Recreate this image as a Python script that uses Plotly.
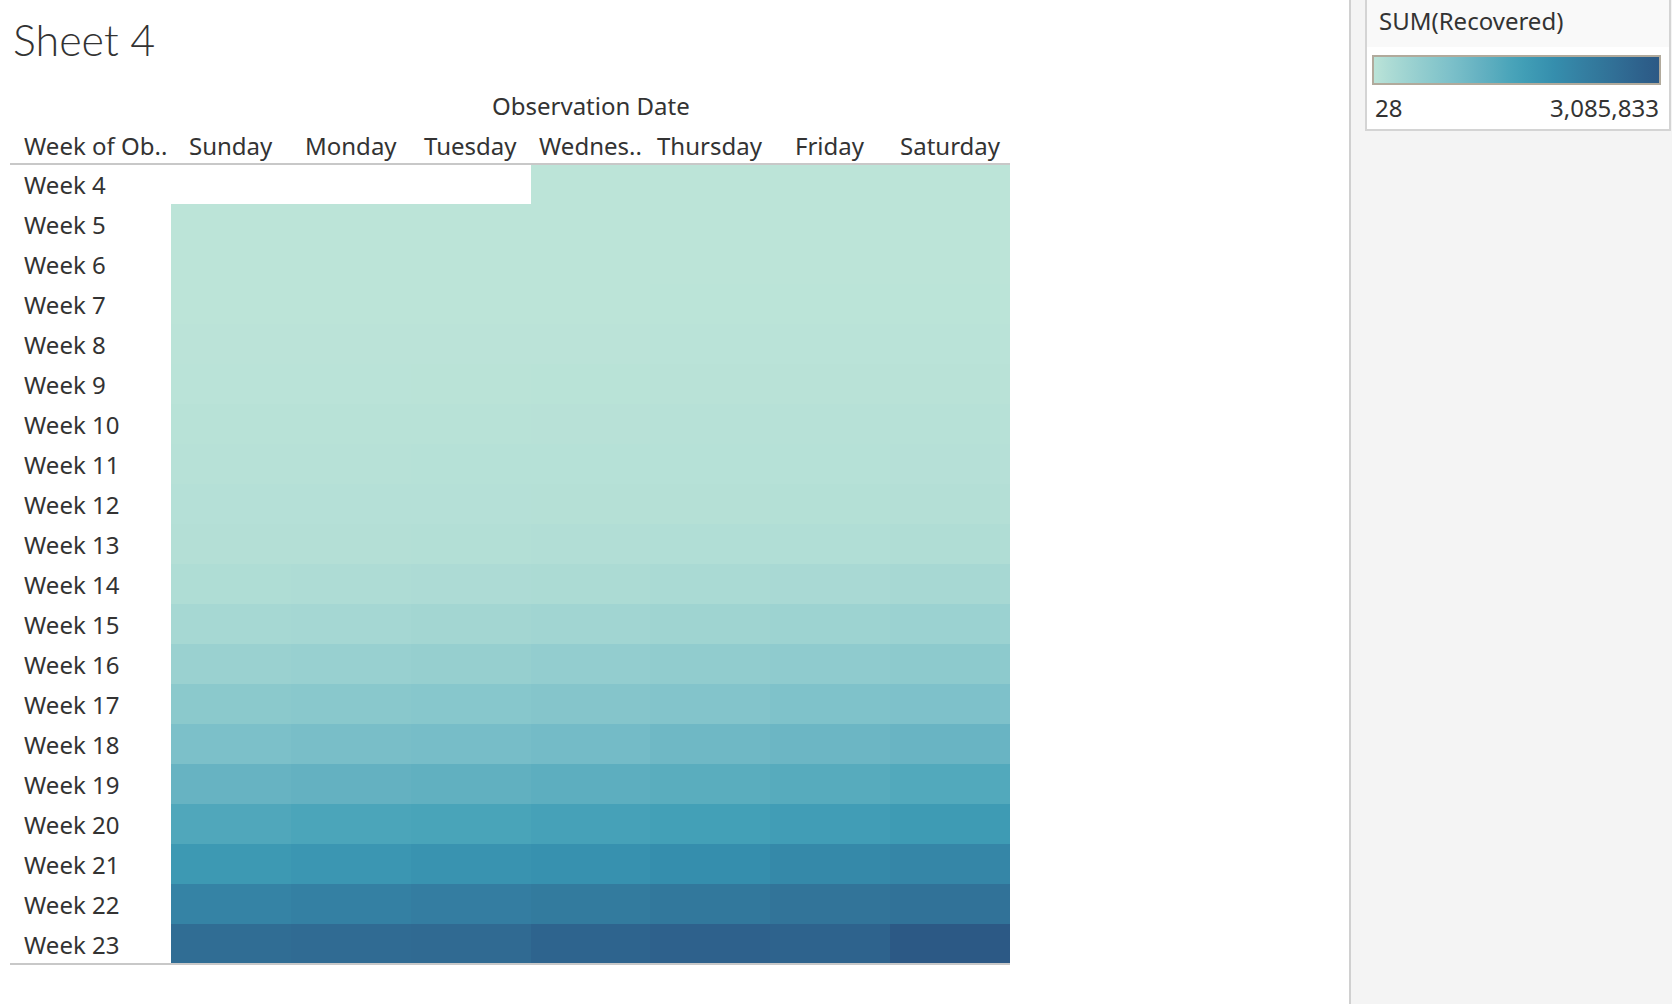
import plotly.graph_objects as go

days = ["Sunday", "Monday", "Tuesday", "Wednesday", "Thursday", "Friday", "Saturday"]
day_labels = ["Sunday", "Monday", "Tuesday", "Wednes..", "Thursday", "Friday", "Saturday"]
weeks = ["Week %d" % i for i in range(4, 24)]

recovered = [
    [None, None, None, 28, 30, 36, 39],
    [52, 61, 107, 126, 143, 222, 284],
    [472, 623, 852, 1124, 1487, 2011, 2616],
    [3244, 3946, 4683, 5150, 6295, 8058, 9395],
    [10865, 12583, 14352, 16121, 18177, 18890, 22886],
    [23394, 25227, 27905, 30384, 33277, 36711, 39782],
    [42716, 45602, 48228, 51170, 53796, 55865, 58358],
    [60694, 62494, 64404, 67003, 68324, 70251, 72624],
    [76034, 78088, 80840, 83207, 84854, 87256, 91676],
    [97243, 98334, 107990, 113787, 122150, 130915, 139415],
    [149082, 164566, 178034, 193177, 210263, 225796, 246152],
    [260012, 276515, 300054, 328661, 353975, 376096, 402110],
    [421722, 448655, 474261, 511019, 542107, 568343, 592319],
    [623903, 645738, 680400, 710298, 739273, 790842, 817306],
    [845066, 873636, 906988, 948425, 1014753, 1052415, 1093112],
    [1125236, 1162724, 1198832, 1245413, 1284741, 1322050, 1375624],
    [1408980, 1456209, 1493414, 1548547, 1587893, 1637067, 1693197],
    [1733963, 1786875, 1838995, 1897466, 1948739, 2056643, 2112185],
    [2168563, 2231738, 2286956, 2350088, 2415233, 2493814, 2546634],
    [2639599, 2684005, 2706000, 2821174, 2880128, 2840000, 3085833],
]
legend_min = 28
legend_max = 3085833

palette = ["#bce4d8", "#aedcd5", "#a1d5d2", "#95cecf", "#89c8cc", "#7ec1ca", "#72bac6",
           "#66b2c2", "#59acbe", "#4ba5ba", "#419eb6", "#3b96b2", "#358ead", "#3586a7",
           "#347ea1", "#32779b", "#316f96", "#2f6790", "#2d5f8a", "#2c5985"]
colorscale = [[i / (len(palette) - 1), c] for i, c in enumerate(palette)]

W, H = 1672, 1004
L, R, T, B = 171, 1010, 164, 964

def px(xp):
    return (xp - L) / (R - L)

def py(yp):
    return (B - yp) / (B - T)

FONT = "Noto Sans"
TXT = "#333333"
FS = 24

fig = go.Figure()
fig.add_trace(go.Heatmap(
    z=recovered, x=days, y=weeks,
    colorscale=colorscale, zmin=legend_min, zmax=legend_max,
    xgap=0, ygap=0, hoverongaps=False,
    colorbar=dict(
        orientation="h", xref="paper", yref="paper",
        x=px(1373), xanchor="left", y=py(56), yanchor="top",
        len=287, lenmode="pixels", thickness=28, thicknessmode="pixels",
        outlinecolor="#b1aa9c", outlinewidth=2, showticklabels=False, ticks="",
        xpad=0, ypad=0,
    ),
))

shapes = []
shapes.append(dict(type="rect", xref="paper", yref="paper", x0=px(1350), x1=px(W + 5),
                   y0=py(H + 5), y1=py(-5), fillcolor="#f4f4f4", line=dict(width=0), layer="below"))
shapes.append(dict(type="line", xref="paper", yref="paper", x0=px(1350), x1=px(1350),
                   y0=py(H + 5), y1=py(-5), line=dict(color="#d0d0d0", width=2), layer="below"))
shapes.append(dict(type="rect", xref="paper", yref="paper", x0=px(1366), x1=px(1670),
                   y0=py(130), y1=py(-3), fillcolor="#ffffff", line=dict(color="#d4d4d4", width=2), layer="below"))
shapes.append(dict(type="rect", xref="paper", yref="paper", x0=px(1367), x1=px(1669),
                   y0=py(47), y1=py(-2), fillcolor="#f9f9f9", line=dict(width=0), layer="below"))
shapes.append(dict(type="line", xref="paper", yref="paper", x0=px(10), x1=px(1010),
                   y0=py(164), y1=py(164), line=dict(color="#c8c8c8", width=2)))
shapes.append(dict(type="line", xref="paper", yref="paper", x0=px(10), x1=px(1010),
                   y0=py(964), y1=py(964), line=dict(color="#c8c8c8", width=2)))

ann = []
ann.append(dict(text="Sheet 4", xref="paper", yref="paper", x=px(11), y=py(39),
                xanchor="left", yanchor="middle", showarrow=False,
                font=dict(family="Lato", size=43, color=TXT, weight=300)))
ann.append(dict(text="Observation Date", xref="paper", yref="paper", x=px(591), y=py(105),
                xanchor="center", yanchor="middle", showarrow=False,
                font=dict(family=FONT, size=FS, color=TXT)))
ann.append(dict(text="Week of Ob..", xref="paper", yref="paper", x=px(22), y=py(145),
                xanchor="left", yanchor="middle", showarrow=False,
                font=dict(family=FONT, size=FS, color=TXT)))
for d, lab in zip(days, day_labels):
    ann.append(dict(text=lab, xref="x", yref="paper", x=d, y=py(145),
                    xanchor="center", yanchor="middle", showarrow=False,
                    font=dict(family=FONT, size=FS, color=TXT)))
for w in weeks:
    ann.append(dict(text=w, xref="paper", yref="y", x=px(22), y=w,
                    xanchor="left", yanchor="middle", showarrow=False,
                    font=dict(family=FONT, size=FS, color=TXT)))
ann.append(dict(text="SUM(Recovered)", xref="paper", yref="paper", x=px(1377), y=py(20),
                xanchor="left", yanchor="middle", showarrow=False,
                font=dict(family=FONT, size=FS, color=TXT)))
ann.append(dict(text=f"{legend_min:,}", xref="paper", yref="paper", x=px(1373), y=py(108),
                xanchor="left", yanchor="middle", showarrow=False,
                font=dict(family=FONT, size=FS, color=TXT)))
ann.append(dict(text=f"{legend_max:,}", xref="paper", yref="paper", x=px(1661), y=py(108),
                xanchor="right", yanchor="middle", showarrow=False,
                font=dict(family=FONT, size=FS, color=TXT)))

fig.update_layout(
    width=W, height=H, autosize=False,
    margin=dict(l=L, r=W - R, t=T, b=H - B, pad=0),
    paper_bgcolor="white", plot_bgcolor="white",
    xaxis=dict(showticklabels=False, ticks="", showgrid=False, zeroline=False,
               categoryorder="array", categoryarray=days),
    yaxis=dict(showticklabels=False, ticks="", showgrid=False, zeroline=False,
               autorange="reversed", categoryorder="array", categoryarray=weeks),
    shapes=shapes, annotations=ann, showlegend=False,
)

fig.write_html("out.html", config={"displayModeBar": False})
